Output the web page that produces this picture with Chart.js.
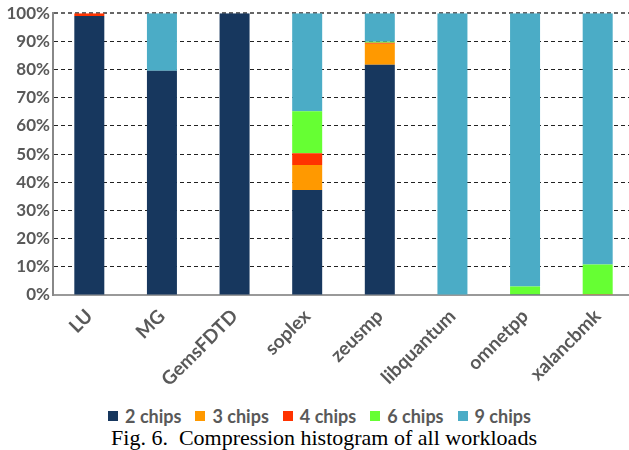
<!DOCTYPE html>
<html>
<head>
<meta charset="utf-8">
<script src="https://cdn.jsdelivr.net/npm/chart.js@4.4.1/dist/chart.umd.min.js"></script>
<style>
  html, body { margin: 0; padding: 0; background: #fff; overflow: hidden; }
  body { width: 629px; height: 450px; position: relative; }
  #wrap { position: absolute; left: 0; top: 0; width: 634px; height: 400px; }
  #legend {
    position: absolute; left: 0; top: 405px; width: 639px;
    display: flex; justify-content: center; gap: 14px;
    font: bold 18px Lato, sans-serif; color: #595959; line-height: 22px;
  }
  #legend span { display: flex; align-items: center; white-space: nowrap; }
  #legend i { display: inline-block; width: 10px; height: 10px; margin-right: 7px; }
  #caption {
    position: absolute; left: 0; top: 426px; width: 648px; text-align: center;
    font: 22px "Liberation Serif", "Times New Roman", serif; color: #000;
    white-space: pre; line-height: 24px;
  }
</style>
</head>
<body>
<div id="wrap"><canvas id="myChart"></canvas></div>
<div id="legend"></div>
<div id="caption">Fig. 6.  Compression histogram of all workloads</div>
<script>
// Workloads and share of blocks per compression level (percent)
const workloads = ['LU', 'MG', 'GemsFDTD', 'soplex', 'zeusmp', 'libquantum', 'omnetpp', 'xalancbmk'];
const chips2 = [99.0, 79.6, 100, 37.3, 81.7, 0, 0.3, 0];
const chips3 = [0, 0, 0, 8.8, 7.5, 0, 0, 0];
const chips4 = [1.0, 0, 0, 4.2, 0.3, 0, 0, 0.3];
const chips6 = [0, 0, 0, 14.9, 0.4, 0, 2.7, 10.5];
const chips9 = [0, 20.4, 0, 34.8, 10.1, 100, 97.0, 89.2];
const yTicks = [0, 10, 20, 30, 40, 50, 60, 70, 80, 90, 100];

const seriesNames = ['2 chips', '3 chips', '4 chips', '6 chips', '9 chips'];
const seriesData = [chips2, chips3, chips4, chips6, chips9];
const seriesColors = ['#17375E', '#FF9900', '#FF3300', '#66FF33', '#4BACC6'];

const ctx = document.getElementById('myChart');

const chart = new Chart(ctx, {
  type: 'bar',
  data: {
    labels: workloads,
    datasets: seriesNames.map((name, i) => ({
      label: name,
      data: seriesData[i],
      backgroundColor: seriesColors[i],
      borderWidth: 0,
      categoryPercentage: 1,
      barPercentage: 0.413
    }))
  },
  options: {
    responsive: true,
    maintainAspectRatio: false,
    animation: false,
    layout: { padding: { top: 2, left: 0, right: 0, bottom: 0 } },
    scales: {
      x: {
        stacked: true,
        grid: { display: false },
        border: { display: true, color: '#999', width: 2, dash: [3, 2] },
        ticks: {
          color: '#595959',
          font: { family: 'Lato, sans-serif', size: 19, weight: 'bold' },
          maxRotation: 45,
          minRotation: 45,
          padding: 2
        },
        afterFit: (scale) => { scale.height = 105; }
      },
      y: {
        stacked: true,
        min: 0,
        max: 100,
        afterBuildTicks: (scale) => { scale.ticks = yTicks.map(v => ({ value: v })); },
        grid: {
          drawTicks: false,
          color: (c) => c.tick && c.tick.value === 100 ? '#666' : '#222',
          lineWidth: (c) => c.tick && c.tick.value === 100 ? 2 : 1,
          borderDash: [4, 3]
        },
        border: { display: true, color: '#888', width: 2, dash: [4, 3] },
        ticks: {
          color: '#595959',
          font: { family: 'Lato, sans-serif', size: 17, weight: 'bold' },
          padding: 3,
          callback: (v) => v + '%'
        },
        afterFit: (scale) => { scale.width = 53; }
      }
    },
    plugins: {
      legend: { display: false },
      tooltip: { enabled: false }
    }
  }
});

// Legend built from the chart's own datasets
const legendEl = document.getElementById('legend');
chart.data.datasets.forEach((ds) => {
  const item = document.createElement('span');
  const box = document.createElement('i');
  box.style.background = ds.backgroundColor;
  item.appendChild(box);
  item.appendChild(document.createTextNode(ds.label));
  legendEl.appendChild(item);
});
</script>
</body>
</html>
